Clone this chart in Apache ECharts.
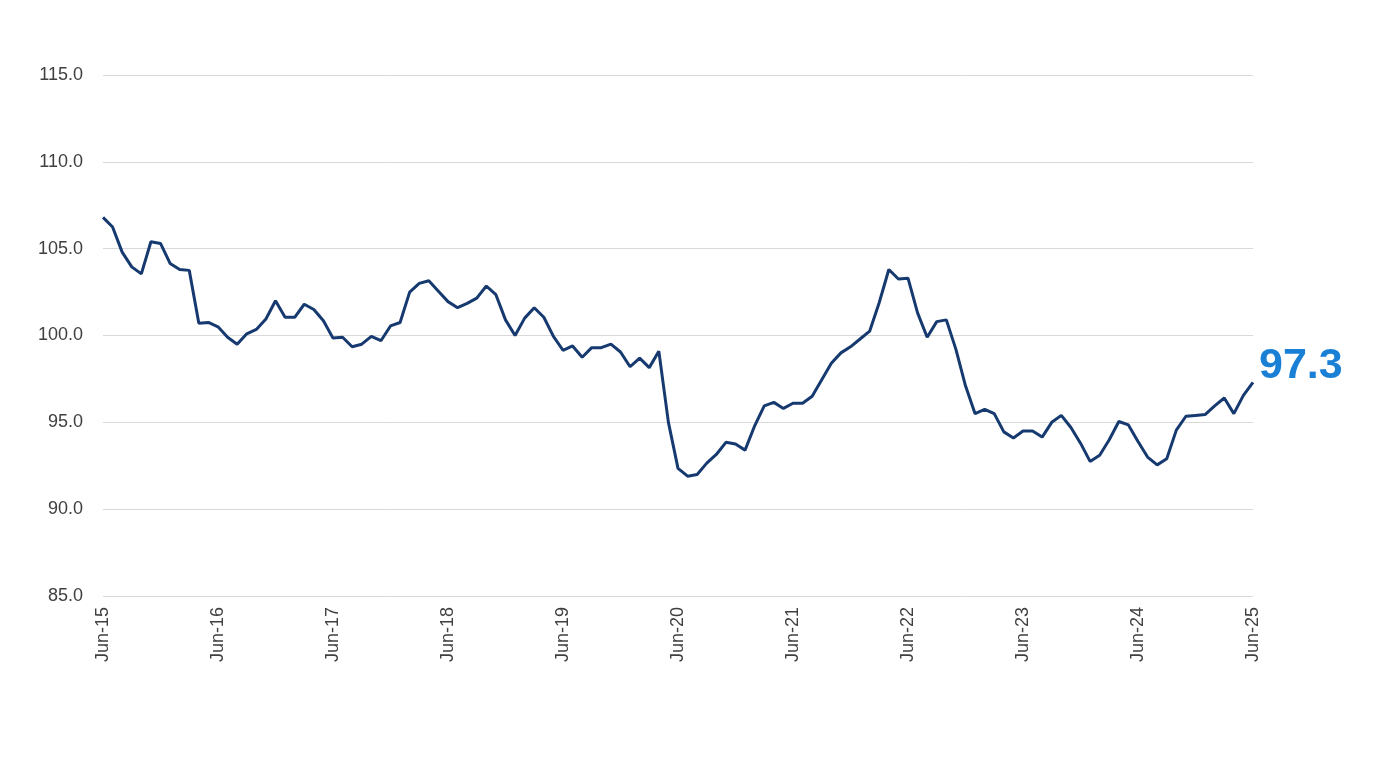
<!DOCTYPE html>
<html>
<head>
<meta charset="utf-8">
<script src="https://cdn.jsdelivr.net/npm/echarts@6/dist/echarts.min.js"></script>
<style>
  html, body { margin: 0; padding: 0; background: #fff; }
  #chart { width: 1400px; height: 763px; }
</style>
</head>
<body>
<div id="chart"></div>
<script>
// monthly index values, Jun-15 .. Jun-25
var values = [
  106.8, 106.25, 104.8, 103.95, 103.55, 105.4, 105.3, 104.15, 103.8, 103.75, 100.7, 100.75,
  100.5, 99.9, 99.5, 100.1, 100.35, 100.95, 102.0, 101.05, 101.05, 101.8, 101.5, 100.85,
  99.85, 99.9, 99.35, 99.5, 99.95, 99.7, 100.55, 100.75, 102.5, 103.0, 103.15, 102.55,
  101.95, 101.6, 101.85, 102.15, 102.85, 102.35, 100.9, 100.0, 101.0, 101.6, 101.05, 99.95,
  99.15, 99.4, 98.75, 99.3, 99.3, 99.5, 99.05, 98.2, 98.7, 98.15, 99.1, 95.0,
  92.35, 91.9, 92.0, 92.65, 93.15, 93.85, 93.75, 93.4, 94.8, 95.95, 96.15, 95.8,
  96.1, 96.1, 96.5, 97.45, 98.4, 99.0, 99.35, 99.8, 100.25, 101.9, 103.8, 103.25,
  103.3, 101.3, 99.9, 100.8, 100.9, 99.2, 97.1, 95.5, 95.75, 95.5, 94.45, 94.1,
  94.5, 94.5, 94.15, 95.0, 95.4, 94.7, 93.8, 92.75, 93.1, 94.0, 95.05, 94.85,
  93.9, 93.0, 92.55, 92.9, 94.55, 95.35, 95.4, 95.45, 95.95, 96.4, 95.5, 96.55,
  97.3
];

var monthNames = ['Jan', 'Feb', 'Mar', 'Apr', 'May', 'Jun', 'Jul', 'Aug', 'Sep', 'Oct', 'Nov', 'Dec'];
var categories = [];
for (var i = 0; i < values.length; i++) {
  var m = (5 + i) % 12;
  var y = 15 + Math.floor((5 + i) / 12);
  categories.push(monthNames[m] + '-' + y);
}

var yMin = 85, yMax = 115, yStep = 5;
var lastLabel = '97.3';

var chart = echarts.init(document.getElementById('chart'));

var option = {
  animation: false,
  grid: { left: 103, right: 147, top: 75, bottom: 167, containLabel: false },
  xAxis: {
    type: 'category',
    data: categories,
    boundaryGap: false,
    axisLine: { show: false },
    axisTick: { show: false },
    axisLabel: {
      interval: 11,
      rotate: 90,
      margin: 11,
      color: '#404040',
      fontSize: 18,
      fontFamily: 'Liberation Sans'
    },
    splitLine: { show: false }
  },
  yAxis: {
    type: 'value',
    min: yMin,
    max: yMax,
    interval: yStep,
    axisLine: { show: false },
    axisTick: { show: false },
    axisLabel: {
      margin: 20,
      color: '#404040',
      fontSize: 18,
      fontFamily: 'Liberation Sans',
      formatter: function (v) { return v.toFixed(1); }
    },
    splitLine: { lineStyle: { color: '#d9d9d9', width: 1 } }
  },
  series: [{
    type: 'line',
    data: values,
    symbol: 'none',
    lineStyle: { color: '#163a70', width: 3 },
    endLabel: {
      show: true,
      formatter: lastLabel,
      color: '#1a80d6',
      fontSize: 43,
      fontWeight: 'bold',
      fontFamily: 'Liberation Sans',
      offset: [0, -16],
      distance: 6
    }
  }]
};

chart.setOption(option);
</script>
</body>
</html>
